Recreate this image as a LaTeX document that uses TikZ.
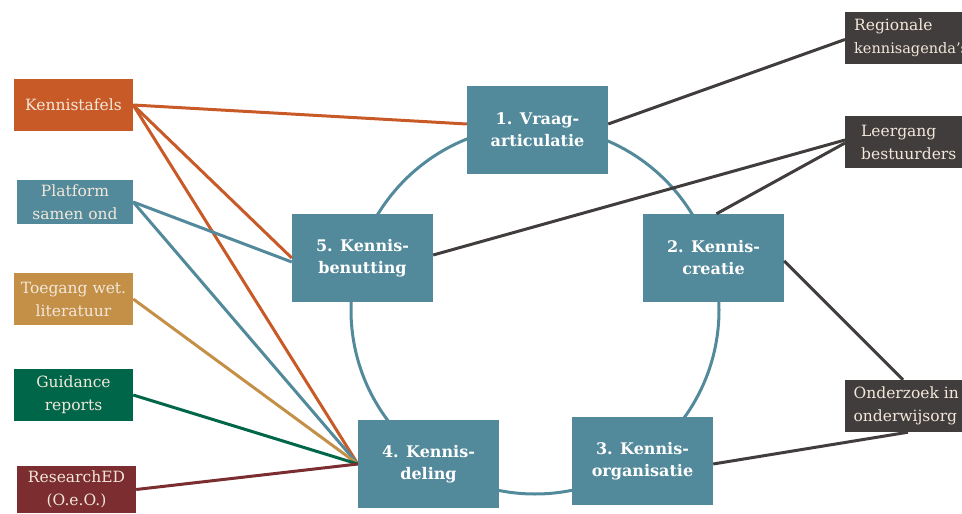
\documentclass[tikz,border=0pt]{standalone}
\usepackage{fontspec}
\setmainfont{DejaVu Serif}
\usetikzlibrary{positioning}
\definecolor{kteal}{HTML}{538A9B}
\definecolor{korange}{HTML}{C85A27}
\definecolor{kochre}{HTML}{C49048}
\definecolor{kgreen}{HTML}{00664A}
\definecolor{kred}{HTML}{7B2D2F}
\definecolor{kdark}{HTML}{423D3D}
\definecolor{kcream}{HTML}{F2E8DA}

\begin{document}
\begin{tikzpicture}[x=1pt,y=-1pt,
    stage/.style={rectangle,fill=kteal,text=white,font=\bfseries\fontsize{16}{22}\selectfont,minimum width=141pt,minimum height=88pt,align=center,inner sep=0pt},
    source/.style={rectangle,text=kcream,font=\fontsize{15.5}{23}\selectfont,minimum width=119pt,minimum height=52pt,align=center,inner sep=0pt},
    partner/.style={rectangle,fill=kdark,text=kcream,font=\fontsize{15.5}{23}\selectfont,minimum width=122pt,minimum height=52pt,anchor=west,align=left,inner xsep=9pt,inner ysep=0pt},
    link/.style={line width=3pt}]
	\useasboundingbox (0,0) rectangle (962,514);

	\draw[kteal,line width=3pt] (535,310) circle [radius=184pt];

	% cycle
	\node[stage] (v1) at (537.5,130) {1. Vraag-\\articulatie};
	\node[stage] (v2) at (713.5,258) {2. Kennis-\\creatie};
	\node[stage] (v3) at (642.5,461) {3. Kennis-\\organisatie};
	\node[stage] (v4) at (428.5,464) {4. Kennis-\\deling};
	\node[stage] (v5) at (362.5,258) {5. Kennis-\\benutting};

	% sources
	\node[source,fill=korange] (kt) at (73.5,105) {Kennistafels};
	\node[source,fill=kteal,minimum width=116pt,minimum height=44pt] (pl) at (75,202) {Platform\\samen ond};
	\node[source,fill=kochre] (tg) at (73.5,299) {Toegang wet.\\literatuur};
	\node[source,fill=kgreen] (gr) at (73.5,395) {Guidance\\reports};
	\node[source,fill=kred,minimum height=47pt] (re) at (76.5,489.5) {ResearchED\\(O.e.O.)};

	% partners
	\node[partner] (rk) at (845,37.5) {Regionale\\{\fontsize{14.5}{21}\selectfont kennisagenda's}};
	\node[partner,inner xsep=16pt] (lb) at (845,142) {Leergang\\bestuurders};
	\node[partner,inner xsep=6pt] (oz) at (845,406) {Onderzoek in\\onderwijsorg};

	\draw[link,korange] (kt.east) -- ([yshift=6pt]v1.west);
	\draw[link,korange] (kt.east) -- (v5.west);
	\draw[link,korange] (kt.east) -- (v4.west);
	\draw[link,kteal] (pl.east) -- ([yshift=-4pt]v5.west);
	\draw[link,kteal] (pl.east) -- (v4.west);
	\draw[link,kochre] (tg.east) -- (v4.west);
	\draw[link,kgreen] (gr.east) -- (v4.west);
	\draw[link,kred] (re.east) -- (v4.west);

	\draw[link,kdark] ([yshift=6pt]v1.east) -- ([yshift=-2pt]rk.west);
	\draw[link,kdark] ([yshift=3pt]v5.east) -- ([yshift=2pt]lb.west);
	\draw[link,kdark] ([xshift=3pt]v2.north) -- ([yshift=-1pt]lb.west);
	\draw[link,kdark] ([yshift=-3pt]v2.east) -- ([xshift=58pt]oz.north west);
	\draw[link,kdark] ([yshift=-3pt]v3.east) -- ([xshift=63pt]oz.south west);
\end{tikzpicture}
\end{document}
